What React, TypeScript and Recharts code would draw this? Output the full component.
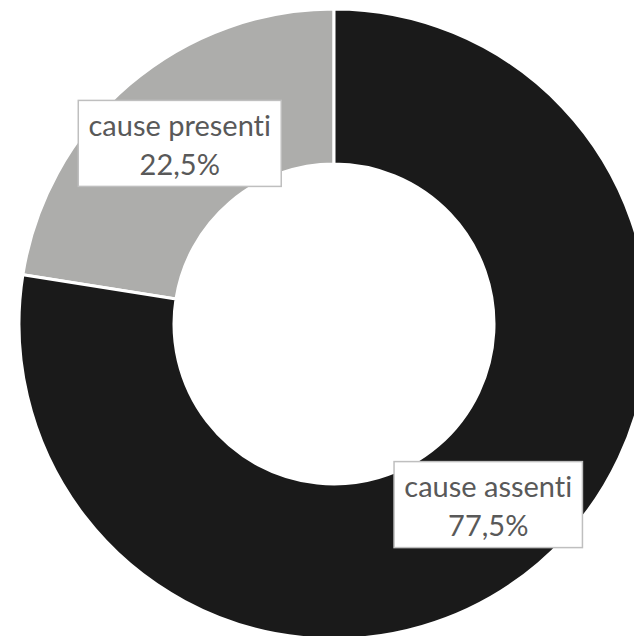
import React from "react";
import { PieChart, Pie, Cell } from "recharts";

const categories = ["cause presenti", "cause assenti"];
const shares = [22.5, 77.5];
const colors = ["#adadab", "#1a1a1a"];

const data = categories.map((name, i) => ({ name, value: shares[i] }));

const RADIAN = Math.PI / 180;
const FONT = "Lato, 'Noto Sans', sans-serif";
const FONT_SIZE = 29;

function textWidth(text: string) {
  // measure with a canvas so the box fits the label text
  const ctx = document.createElement("canvas").getContext("2d");
  if (!ctx) return text.length * 13.5;
  ctx.font = `${FONT_SIZE}px ${FONT}`;
  return ctx.measureText(text).width;
}

const renderLabel = (props: any) => {
  const { cx, cy, midAngle, innerRadius, outerRadius, name, value } = props;
  const r = (innerRadius + outerRadius) / 2;
  const x = cx + r * Math.cos(-midAngle * RADIAN);
  const y = cy + r * Math.sin(-midAngle * RADIAN);
  const pct = `${value.toFixed(1).replace(".", ",")}%`;
  const w = Math.max(textWidth(name), textWidth(pct)) + 20;
  const h = 86;
  const textStyle = { fontVariantLigatures: "none" as const };
  return (
    <g>
      <rect
        x={x - w / 2}
        y={y - h / 2}
        width={w}
        height={h}
        fill="#ffffff"
        stroke="#bfbfbf"
        strokeWidth={1.5}
      />
      <text
        x={x}
        y={y - 19}
        textAnchor="middle"
        dominantBaseline="central"
        fill="#595959"
        fontFamily={FONT}
        fontSize={FONT_SIZE}
        style={textStyle}
      >
        {name}
      </text>
      <text
        x={x}
        y={y + 20}
        textAnchor="middle"
        dominantBaseline="central"
        fill="#595959"
        fontFamily={FONT}
        fontSize={FONT_SIZE}
        style={textStyle}
      >
        {pct}
      </text>
    </g>
  );
};

export default function App() {
  return (
    <div style={{ position: "absolute", left: 0, top: 0, width: 634, height: 636, background: "#fff" }}>
      <PieChart width={634} height={636} margin={{ top: 0, right: 0, bottom: 0, left: 0 }}>
        <Pie
          data={data}
          dataKey="value"
          nameKey="name"
          cx={334}
          cy={324}
          innerRadius={160}
          outerRadius={315}
          startAngle={90}
          endAngle={450}
          stroke="#ffffff"
          strokeWidth={3}
          labelLine={false}
          label={renderLabel}
          isAnimationActive={false}
        >
          {data.map((d, i) => (
            <Cell key={d.name} fill={colors[i]} />
          ))}
        </Pie>
      </PieChart>
    </div>
  );
}
